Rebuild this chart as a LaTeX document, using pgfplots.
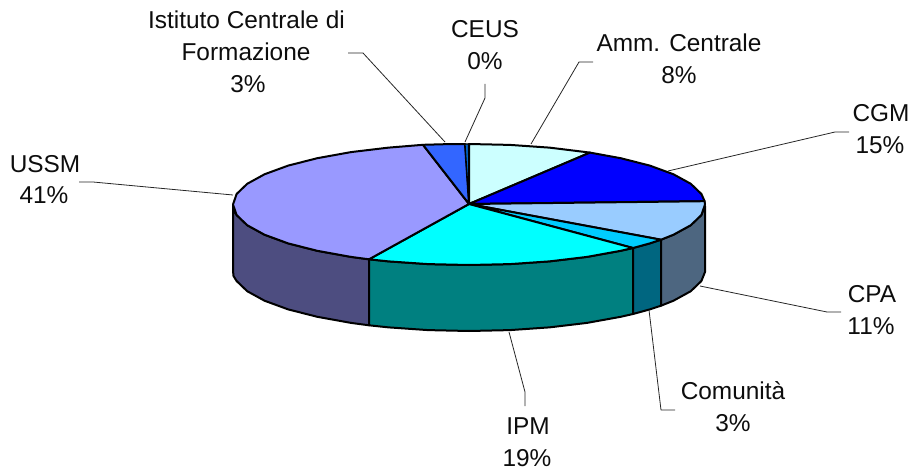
\documentclass[border=0pt]{standalone}
\usepackage{pgfplots}
\pgfplotsset{compat=1.18}
\usepackage{fontspec}
\setmainfont{Liberation Sans}
\definecolor{cAmm}{HTML}{CCFFFF}
\definecolor{cCGM}{HTML}{0000FF}
\definecolor{cCPA}{HTML}{99CCFF}
\definecolor{cCom}{HTML}{00CCFF}
\definecolor{cIPM}{HTML}{00FFFF}
\definecolor{cUSSM}{HTML}{9999FF}
\definecolor{cICF}{HTML}{3366FF}
\definecolor{cCEUS}{HTML}{0066CC}
\definecolor{sUSSM}{HTML}{4D4D80}
\definecolor{sIPM}{HTML}{008080}
\definecolor{sCom}{HTML}{006680}
\definecolor{sCPA}{HTML}{4D6680}
\tikzset{
  slice/.style={draw=black,line width=2pt,line join=round},
  lead/.style={draw=black!85,line width=0.8pt,line join=round},
  lab/.style={anchor=base,font=\fontsize{24.4}{28}\selectfont,text=black!95,inner sep=0pt}
}
\begin{document}
\begin{tikzpicture}[x=1pt,y=1pt]
\useasboundingbox (0,0) rectangle (916,476);
\begin{axis}[
  at={(0,0)},anchor=south west,
  width=916pt,height=476pt,scale only axis,
  xmin=0,xmax=916,ymin=0,ymax=476,y dir=reverse,
  hide axis,clip=false
]
% side walls
\addplot[slice,fill=sUSSM] coordinates {(233,204.5)(233.5,210)(236.6,215)(247.2,225.2)(264.6,234.75)(288.2,243.4)(317.3,250.8)(351,256.9)(369,259.3)
 (369,325.3)(351,322.9)(317.3,316.8)(288.2,309.4)(264.6,300.75)(247.2,291.2)(236.6,281)(233.5,276)(233,270.5)(233,204.5)};
\addplot[slice,fill=sIPM] coordinates {(369,259.3)(388.3,261.35)(428,264.1)(469,265)(510,264.1)(549.7,261.35)(587,256.9)(620.7,250.8)(633,248)
 (633,314)(620.7,316.8)(587,322.9)(549.7,327.35)(510,330.1)(469,331)(428,330.1)(388.3,327.35)(369,325.3)(369,259.3)};
\addplot[slice,fill=sCom] coordinates {(633,248)(649.8,243.4)(661,239.7)(661,305.7)(649.8,309.4)(633,314)(633,248)};
\addplot[slice,fill=sCPA] coordinates {(661,239.7)(673.4,234.75)(690.8,225.2)(701.4,215)(705,206)
 (705,272)(701.4,281)(690.8,291.2)(673.4,300.75)(661,305.7)(661,239.7)};
% top faces
\addplot[slice,fill=cAmm] coordinates {(469,204)(469,144)(510,144.9)(549.7,147.65)(590,152.6)(469,204)};
\addplot[slice,fill=cCGM] coordinates {(469,204)(590,152.6)(620.7,158.2)(649.8,165.6)(673.4,174.25)(690.8,183.8)(701.4,194)(704.6,201.2)(469,204)};
\addplot[slice,fill=cCPA] coordinates {(469,204)(704.6,201.2)(705,204.5)(701.4,215)(690.8,225.2)(673.4,234.75)(661,239.7)(469,204)};
\addplot[slice,fill=cCom] coordinates {(469,204)(661,239.7)(649.8,243.4)(633,248)(469,204)};
\addplot[slice,fill=cIPM] coordinates {(469,204)(633,248)(620.7,250.8)(587,256.9)(549.7,261.35)(510,264.1)(469,265)(428,264.1)(388.3,261.35)(369,259.3)(469,204)};
\addplot[slice,fill=cUSSM] coordinates {(469,204)(369,259.3)(351,256.9)(317.3,250.8)(288.2,243.4)(264.6,234.75)(247.2,225.2)(236.6,215)(233,204.5)(236.6,194)(247.2,183.8)(264.6,174.25)(288.2,165.6)(317.3,158.2)(351,152.1)(388.3,147.65)(423,144.8)(469,204)};
\addplot[slice,fill=cICF] coordinates {(469,204)(423,144.8)(445,144.2)(465,144)(469,204)};
\addplot[slice,fill=cCEUS,line width=1.2pt] coordinates {(469,204)(465,144)(468.5,144)(469,204)};
% leader lines
\addplot[lead] coordinates {(348,53)(363,53)(445,142)};
\addplot[lead] coordinates {(485,84)(485,98)(465,142)};
\addplot[lead] coordinates {(593,62)(579,62)(531,144)};
\addplot[lead] coordinates {(668,171)(835,132)(849,132)};
\addplot[lead] coordinates {(79,182)(93,182)(233,195)};
\addplot[lead] coordinates {(700,286)(827,312)(841,312)};
\addplot[lead] coordinates {(649,310)(661,410)(675,410)};
\addplot[lead] coordinates {(509,332)(525,392)(525,406)};
% labels
\node[lab] at (axis cs:246.5,29) {Istituto Centrale di};
\node[lab] at (axis cs:246,61) {Formazione};
\node[lab] at (axis cs:248,93) {3\%};
\node[lab] at (axis cs:485,38) {CEUS};
\node[lab] at (axis cs:485,70) {0\%};
\node[lab] at (axis cs:679,52) {Amm. Centrale};
\node[lab] at (axis cs:679,84) {8\%};
\node[lab] at (axis cs:881,122) {CGM};
\node[lab] at (axis cs:880,154) {15\%};
\node[lab] at (axis cs:45,172) {USSM};
\node[lab] at (axis cs:44,204) {41\%};
\node[lab] at (axis cs:872,302) {CPA};
\node[lab] at (axis cs:871,334) {11\%};
\node[lab] at (axis cs:733,399) {Comunità};
\node[lab] at (axis cs:733,431) {3\%};
\node[lab] at (axis cs:528,434) {IPM};
\node[lab] at (axis cs:527,466) {19\%};
\end{axis}
\end{tikzpicture}
\end{document}
